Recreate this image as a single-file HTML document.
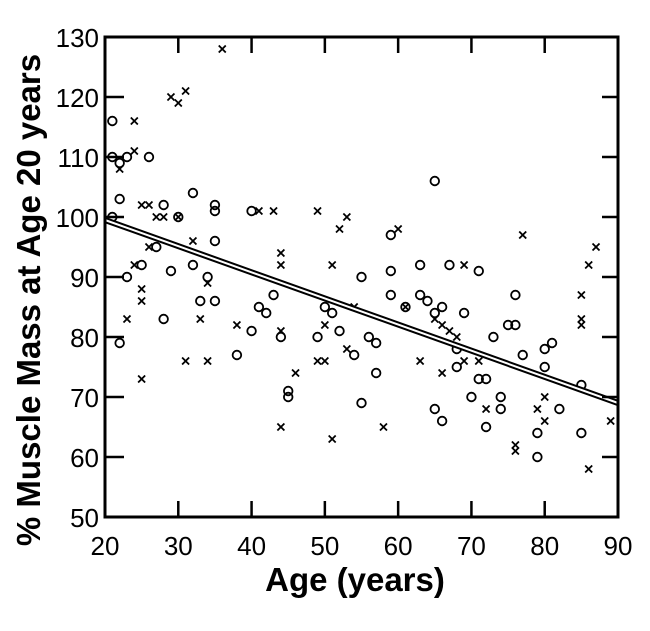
<!DOCTYPE html>
<html><head><meta charset="utf-8"><style>
html,body{margin:0;padding:0;background:#fff;}
svg text{font-family:"Liberation Sans",sans-serif;}
</style></head><body>
<svg id="chart" width="650" height="626" xmlns="http://www.w3.org/2000/svg">
<g id="marks"></g>
<g id="axes"></g>
<text x="355" y="591" text-anchor="middle" font-size="33" font-weight="bold">Age (years)</text>
<text transform="translate(40,300) rotate(-90)" text-anchor="middle" font-size="33" font-weight="bold">% Muscle Mass at Age 20 years</text>
</svg>
<script>
const xTicks=[20,30,40,50,60,70,80,90];
const yTicks=[50,60,70,80,90,100,110,120,130];
const circleAges=[21,21,22,23,22,21,23,22,25,26,27,28,28,29,30,32,32,33,34,35,35,35,35,38,40,40,41,42,43,44,45,45,49,50,51,52,54,55,55,56,57,57,59,59,59,61,63,63,64,65,65,65,66,66,67,68,68,69,70,71,71,72,72,73,74,74,75,76,76,77,79,79,80,80,81,82,85,85];
const circleVals=[116,110,109,110,103,100,90,79,92,110,95,83,102,91,100,104,92,86,90,86,96,101,102,77,81,101,85,84,87,80,70,71,80,85,84,81,77,69,90,80,74,79,97,91,87,85,92,87,86,106,84,68,85,66,92,78,75,84,70,91,73,73,65,80,70,68,82,82,87,77,60,64,78,75,79,68,64,72];
const crossAges=[24,24,22,23,24,25,25,25,26,25,26,29,30,31,27,28,30,32,31,33,34,34,36,38,41,43,44,44,44,44,46,49,49,50,50,51,51,52,53,53,54,58,60,61,63,65,66,66,67,68,69,69,71,72,76,76,77,79,80,80,85,85,85,86,86,87,89];
const crossVals=[116,111,108,83,92,102,88,86,102,73,95,120,119,121,100,100,100,96,76,83,76,89,128,82,101,101,94,92,81,65,74,101,76,76,82,92,63,98,100,78,85,65,98,85,76,83,82,74,81,80,92,76,76,68,62,61,97,68,66,70,87,83,82,58,92,95,66];
const fitAges=[20,90];
const fitVals=[99.5,69];
const NS='http://www.w3.org/2000/svg';
const L=105,R=618,T=37,B=517;
const xs=v=>L+(v-20)/70*(R-L);
const ys=v=>B-(v-50)/80*(B-T);
const marks=document.getElementById('marks'),axes=document.getElementById('axes');
function mk(tag,attrs,parent){const e=document.createElementNS(NS,tag);for(const k in attrs)e.setAttribute(k,attrs[k]);parent.appendChild(e);return e;}
circleAges.forEach((a,i)=>{
  const c=mk('circle',{cx:xs(a),cy:ys(circleVals[i]),r:4.3,fill:'none',stroke:'#000','stroke-width':1.8},marks);
  
  
});
crossAges.forEach((a,i)=>{
  const x=xs(a),y=ys(crossVals[i]);
  const p=mk('path',{d:`M${x-3.5},${y-3.5}L${x+3.5},${y+3.5}M${x+3.5},${y-3.5}L${x-3.5},${y+3.5}`,stroke:'#000','stroke-width':1.8},marks);
  
  
});
const f1=mk('line',{x1:xs(fitAges[0]),y1:ys(fitVals[0]),x2:xs(fitAges[1]),y2:ys(fitVals[1]),stroke:'#000','stroke-width':6},marks);


const f2=mk('line',{x1:xs(fitAges[0]),y1:ys(fitVals[0]),x2:xs(fitAges[1]),y2:ys(fitVals[1]),stroke:'#fff','stroke-width':2},marks);


const fr=mk('rect',{x:L,y:T,width:R-L,height:B-T,fill:'none',stroke:'#000','stroke-width':3},axes);


xTicks.forEach(v=>{
  const x=xs(v);
  const t=mk('path',{d:`M${x},${B}V${B-16}M${x},${T}V${T+16}`,stroke:'#000','stroke-width':2.5},axes);
  
  
  const l=mk('text',{x:x,y:B+38,'text-anchor':'middle','font-size':26},axes);
  l.textContent=v;
  
  
});
yTicks.forEach(v=>{
  const y=ys(v);
  const t=mk('path',{d:`M${L},${y}H${L+19}M${R},${y}H${R-16}`,stroke:'#000','stroke-width':2.5},axes);
  
  
  const l=mk('text',{x:L-6,y:y+10,'text-anchor':'end','font-size':26},axes);
  l.textContent=v;
  
  
});
</script>
</body></html>
